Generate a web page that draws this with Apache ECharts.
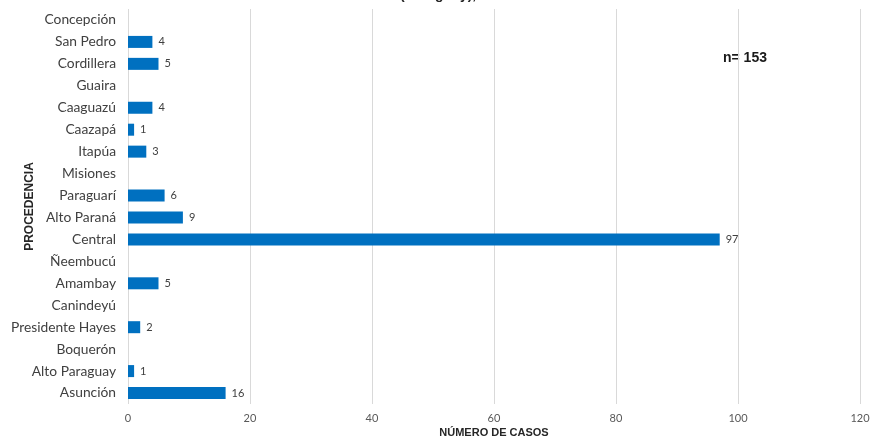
<!DOCTYPE html>
<html>
<head>
<meta charset="utf-8">
<script src="https://cdn.jsdelivr.net/npm/echarts@6/dist/echarts.min.js"></script>
<style>
  html, body { margin: 0; padding: 0; background: #fff; }
  #chart { width: 870px; height: 436px; }
</style>
</head>
<body>
<div id="chart"></div>
<script>
// departamentos de procedencia, de arriba hacia abajo
var departamentos = ['Concepción', 'San Pedro', 'Cordillera', 'Guaira', 'Caaguazú', 'Caazapá', 'Itapúa',
    'Misiones', 'Paraguarí', 'Alto Paraná', 'Central', 'Ñeembucú', 'Amambay', 'Canindeyú',
    'Presidente Hayes', 'Boquerón', 'Alto Paraguay', 'Asunción'];
var casos = [0, 4, 5, 0, 4, 1, 3, 0, 6, 9, 97, 0, 5, 0, 2, 0, 1, 16];
var xTicks = [0, 20, 40, 60, 80, 100, 120];
var totalTexto = 'n= 153';

// eje de categorias va de abajo hacia arriba en echarts, por eso se invierte
var cats = departamentos.slice().reverse();
var vals = casos.slice().reverse().map(function (v) { return v === 0 ? null : v; });

var myChart = echarts.init(document.getElementById('chart'));

var option = {
    animation: false,
    textStyle: { fontFamily: 'Lato' },
    title: {
        text: '(Paraguay),',
        left: 395,
        top: -17,
        textStyle: { fontFamily: 'Liberation Sans', fontSize: 14, fontWeight: 'bold', color: '#262626' }
    },
    grid: { left: 128, right: 10, top: 9, bottom: 32, outerBoundsMode: 'none' },
    xAxis: {
        type: 'value',
        min: xTicks[0],
        max: xTicks[xTicks.length - 1],
        interval: 20,
        name: 'NÚMERO DE CASOS',
        nameLocation: 'middle',
        nameGap: 23,
        nameMoveOverlap: false,
        nameTextStyle: { fontFamily: 'Liberation Sans', fontWeight: 'bold', fontSize: 11, color: '#262626' },
        axisLine: { show: false },
        axisTick: { show: false },
        axisLabel: { color: '#595959', fontSize: 11, margin: 9 },
        splitLine: { lineStyle: { color: '#d9d9d9', width: 1 } }
    },
    yAxis: {
        type: 'category',
        data: cats,
        name: 'PROCEDENCIA',
        nameLocation: 'middle',
        nameGap: 92,
        nameMoveOverlap: false,
        nameTextStyle: { fontFamily: 'Liberation Sans', fontWeight: 'bold', fontSize: 12, color: '#262626' },
        axisLine: { show: false },
        axisTick: { show: false },
        axisLabel: { color: '#404040', fontSize: 13.8, margin: 12 }
    },
    series: [{
        type: 'bar',
        data: vals,
        barWidth: 12,
        itemStyle: { color: '#0070c0' },
        label: {
            show: true,
            position: 'right',
            distance: 6,
            color: '#404040',
            fontSize: 11
        }
    }],
    graphic: [{
        type: 'text',
        left: 723,
        top: 51,
        style: {
            text: totalTexto,
            font: 'bold 14px "Liberation Sans"',
            fill: '#1a1a1a'
        }
    }]
};

myChart.setOption(option);
</script>
</body>
</html>
